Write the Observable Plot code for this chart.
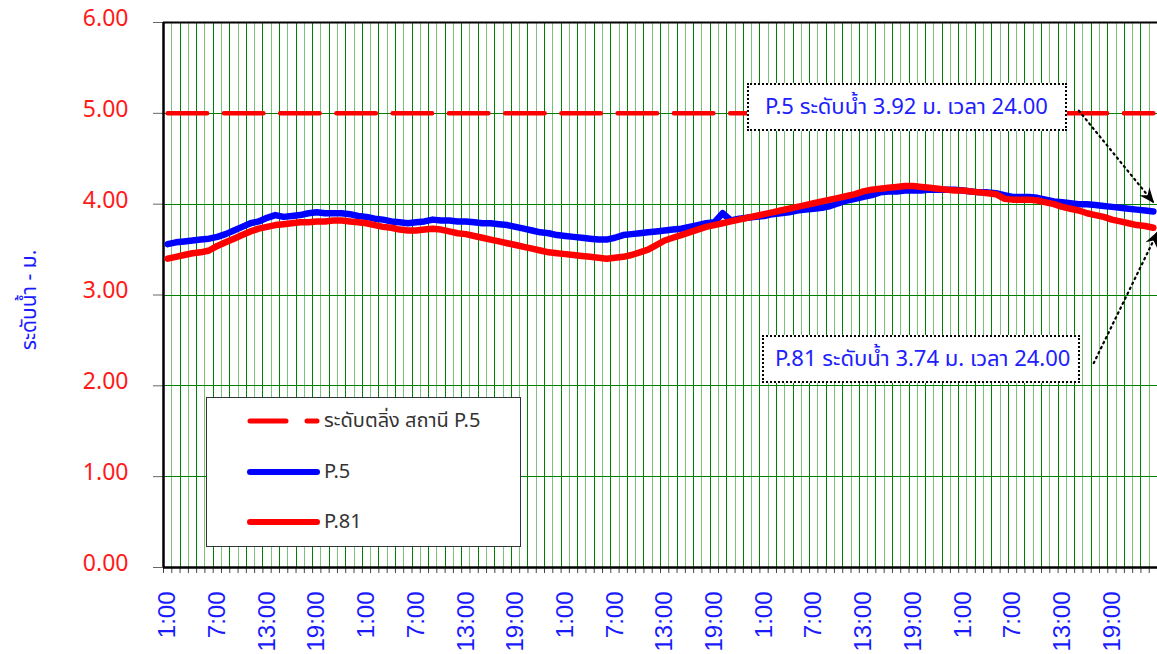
<!DOCTYPE html>
<html><head><meta charset="utf-8">
<script src="https://cdn.jsdelivr.net/npm/d3@7"></script>
<script src="https://cdn.jsdelivr.net/npm/@observablehq/plot@0.6"></script>
<style>
body{margin:0;background:#fff;}
#wrap{position:relative;width:1157px;height:654px;overflow:hidden;font-family:"Noto Sans Thai","Leelawadee UI",Tahoma,"Noto Sans",sans-serif;}
#wrap svg.chart{position:absolute;left:0;top:0;}
.note{position:absolute;background:#fff;border:2px dotted #000;color:#2020ff;font-size:22px;display:flex;align-items:center;box-sizing:border-box;white-space:nowrap;}
#legend{position:absolute;left:206px;top:397px;width:315px;height:150px;border:1.5px solid #333;background:#fff;box-sizing:border-box;}
#legend .item{position:absolute;left:0;height:30px;display:flex;align-items:center;color:#333;font-size:20px;white-space:nowrap;}
#ytitle{position:absolute;left:29px;top:300px;transform:translate(-50%,-50%) rotate(-90deg);color:#1a1aff;font-size:21px;white-space:nowrap;}
</style></head>
<body><div id="wrap"></div>
<script>
// ---- data ----
const hourLabels = ["1:00","2:00","3:00","4:00","5:00","6:00","7:00","8:00","9:00","10:00","11:00","12:00",
  "13:00","14:00","15:00","16:00","17:00","18:00","19:00","20:00","21:00","22:00","23:00","24:00"];
const dayCount = 5;
const labelEvery = 6;
const p5 = [
  3.56,3.58,3.59,3.60,3.61,3.62,3.64,3.67,3.71,3.75,3.79,3.81,3.85,3.88,3.86,3.87,3.88,3.90,3.91,3.90,3.90,3.90,3.89,3.87,
  3.86,3.84,3.83,3.81,3.80,3.79,3.80,3.81,3.83,3.82,3.82,3.81,3.81,3.80,3.79,3.79,3.78,3.77,3.75,3.73,3.71,3.69,3.68,3.66,
  3.65,3.64,3.63,3.62,3.61,3.61,3.63,3.66,3.67,3.68,3.69,3.70,3.71,3.72,3.73,3.75,3.77,3.79,3.80,3.90,3.82,3.84,3.85,3.86,
  3.87,3.89,3.90,3.91,3.93,3.94,3.95,3.96,3.98,4.01,4.04,4.06,4.08,4.10,4.13,4.14,4.14,4.15,4.15,4.15,4.16,4.16,4.16,4.16,
  4.15,4.14,4.13,4.13,4.12,4.10,4.08,4.08,4.08,4.07,4.05,4.03,4.02,4.01,4.00,4.00,3.99,3.98,3.97,3.96,3.95,3.94,3.93,3.92];
const p81 = [
  3.40,3.42,3.44,3.46,3.47,3.49,3.54,3.58,3.62,3.66,3.70,3.73,3.75,3.77,3.78,3.79,3.80,3.80,3.81,3.81,3.82,3.82,3.81,3.80,
  3.79,3.77,3.75,3.74,3.72,3.71,3.71,3.72,3.73,3.72,3.70,3.68,3.67,3.65,3.63,3.61,3.59,3.57,3.55,3.53,3.51,3.49,3.47,3.46,
  3.45,3.44,3.43,3.42,3.41,3.40,3.41,3.42,3.44,3.47,3.50,3.55,3.60,3.63,3.66,3.69,3.72,3.75,3.77,3.79,3.81,3.83,3.85,3.87,
  3.89,3.91,3.93,3.95,3.97,3.99,4.01,4.03,4.05,4.07,4.09,4.11,4.14,4.16,4.17,4.18,4.19,4.20,4.20,4.19,4.18,4.17,4.16,4.15,
  4.15,4.14,4.13,4.12,4.11,4.06,4.05,4.05,4.05,4.04,4.02,4.00,3.97,3.95,3.93,3.90,3.88,3.86,3.83,3.81,3.79,3.77,3.76,3.74];
const bankLevel = 5.00;
const yTicks = [0,1,2,3,4,5,6];
const yTitle = "ระดับน้ำ - ม.";
const seriesNames = ["ระดับตลิ่ง สถานี P.5","P.5","P.81"];
const seriesColors = ["#ff0000","#0000ff","#ff0000"];
const noteTexts = ["P.5 ระดับน้ำ 3.92 ม. เวลา 24.00","P.81 ระดับน้ำ 3.74 ม. เวลา 24.00"];
// annotation arrow tails (data space)
const arrowTails = [{x:110.5, y:5.03}, {x:112.3, y:2.25}];

// ---- build ----
const times = [];
for (let d = 0; d < dayCount; d++) for (const h of hourLabels) times.push(h);
const rows = p5.map((v, i) => ({x: i + 0.5, t: times[i], p5: v, p81: p81[i], bank: bankLevel}));
const n = rows.length;
const boundaries = d3.range(0, n + 1);
const labelPos = d3.range(0, n, labelEvery).map(i => i + 0.5);
const last = rows[n - 1];
const arrows = [
  {x1: arrowTails[0].x, y1: arrowTails[0].y, x2: last.x, y2: last.p5 + 0.10},
  {x1: arrowTails[1].x, y1: arrowTails[1].y, x2: n, y2: last.p81 - 0.05}
];

const chart = Plot.plot({
  width: 1157, height: 654,
  marginLeft: 163, marginRight: 0, marginTop: 22, marginBottom: 87,
  x: {domain: [0, n], axis: null},
  y: {domain: [0, 6], axis: null},
  style: {background: "transparent", overflow: "visible"},
  marks: [
    Plot.ruleX(boundaries.filter(k => k > 0 && k < n), {stroke: k => (k % 2 ? "#7cc07c" : "#008000"), strokeWidth: 1, shapeRendering: "crispEdges"}),
    Plot.ruleY(yTicks.filter(v => v > 0 && v < 6), {stroke: "#008000", strokeWidth: 1, shapeRendering: "crispEdges"}),
    Plot.axisY({ticks: yTicks, tickSize: 10, tickFormat: () => "", label: null, stroke: "#666"}),
    Plot.axisY({ticks: yTicks, tickSize: 0, tickPadding: 35, tickFormat: d => d.toFixed(2), label: null,
      fill: "#ff1a1a", fontSize: 23, dy: -4, fontFamily: "Noto Sans, sans-serif"}),
    Plot.axisX({ticks: boundaries, tickSize: 6, tickFormat: () => "", label: null, stroke: "#444"}),
    Plot.axisX({ticks: labelPos, tickSize: 0, tickPadding: 24, tickRotate: -90, label: null,
      tickFormat: d => times[Math.floor(d)], fill: "#1a1aff", fontSize: 24, fontFamily: "Liberation Sans, Arial, sans-serif"}),
    Plot.ruleX([0], {stroke: "#000", strokeWidth: 2.5}),
    Plot.ruleY([0], {stroke: "#000", strokeWidth: 2.5}),
    Plot.ruleY([6], {stroke: "#000", strokeWidth: 2}),
    Plot.lineY(rows, {x: "x", y: "bank", stroke: seriesColors[0], strokeWidth: 4.5, strokeDasharray: "39.5,16.75"}),
    Plot.line(rows, {x: "x", y: "p5", stroke: seriesColors[1], strokeWidth: 6.5, strokeLinejoin: "round"}),
    Plot.line(rows, {x: "x", y: "p81", stroke: seriesColors[2], strokeWidth: 6.5, strokeLinejoin: "round"}),
    Plot.link(arrows, {x1: "x1", y1: "y1", x2: "x2", y2: "y2", stroke: "#000", strokeWidth: 2.2,
      strokeDasharray: "1.5,4", strokeLinecap: "round"})
  ]
});
chart.classList.add("chart");
// stealth arrowheads on annotation links
const defs = d3.select(chart).insert("defs", ":first-child");
defs.append("marker").attr("id", "stealth").attr("viewBox", "0 0 12 10").attr("refX", 11).attr("refY", 5)
  .attr("markerWidth", 16).attr("markerHeight", 13).attr("markerUnits", "userSpaceOnUse").attr("orient", "auto")
  .append("path").attr("d", "M0,0 L12,5 L0,10 L4,5 Z").attr("fill", "#000").attr("stroke", "none");
chart.querySelectorAll("g").forEach(g => {
  if (g.getAttribute("stroke-dasharray") === "1.5,4") {
    g.querySelectorAll("path").forEach(p => p.setAttribute("marker-end", "url(#stealth)"));
  }
});
const wrap = document.getElementById("wrap");
wrap.appendChild(chart);

// y title
const yt = document.createElement("div");
yt.id = "ytitle";
yt.textContent = yTitle;
wrap.appendChild(yt);

// annotation boxes
const noteBoxes = [
  {left: 747, top: 83, width: 320, height: 48, pad: 16},
  {left: 762, top: 335, width: 318, height: 48, pad: 11}
];
noteTexts.forEach((t, i) => {
  const b = noteBoxes[i];
  const d = document.createElement("div");
  d.className = "note";
  Object.assign(d.style, {left: b.left + "px", top: b.top + "px", width: b.width + "px", height: b.height + "px", paddingLeft: b.pad + "px"});
  d.textContent = t;
  wrap.appendChild(d);
});

// legend
const legend = document.createElement("div");
legend.id = "legend";
const itemTops = [8, 59, 109];
seriesNames.forEach((name, i) => {
  const it = document.createElement("div");
  it.className = "item";
  it.style.top = itemTops[i] + "px";
  const svgNS = "http://www.w3.org/2000/svg";
  const s = document.createElementNS(svgNS, "svg");
  s.setAttribute("width", 117); s.setAttribute("height", 30);
  const ln = document.createElementNS(svgNS, "line");
  ln.setAttribute("x1", 43); ln.setAttribute("x2", 110); ln.setAttribute("y1", 15); ln.setAttribute("y2", 15);
  ln.setAttribute("stroke", seriesColors[i]); ln.setAttribute("stroke-width", i === 0 ? 5 : 6);
  ln.setAttribute("stroke-linecap", "round");
  if (i === 0) ln.setAttribute("stroke-dasharray", "36,21");
  s.appendChild(ln);
  it.appendChild(s);
  const sp = document.createElement("span");
  sp.textContent = name;
  it.appendChild(sp);
  legend.appendChild(it);
});
wrap.appendChild(legend);
</script>
</body></html>
